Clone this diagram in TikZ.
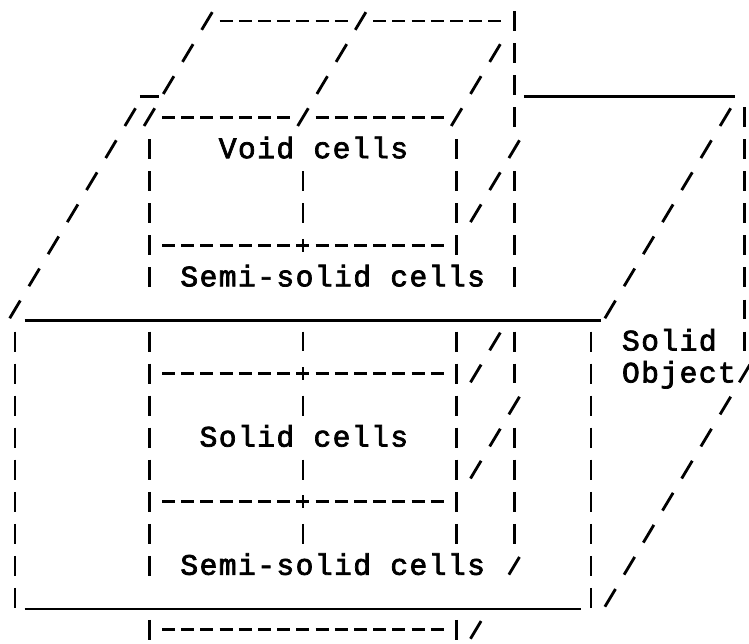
\documentclass[tikz,border=0pt]{standalone}
\usepackage{fontspec}
\newfontfamily\asciifont[FakeBold=2.4, LetterSpace=4.7]{Liberation Mono}
\begin{document}
\begin{tikzpicture}[x=0.5cm, y=-0.8346cm, line width=2.1pt,
	vbar/.style={dash pattern=on 14.8pt off 8.95pt},
	hdash/.style={dash pattern=on 9.6pt off 4.626pt},
	slant/.style={dash pattern=on 15.3pt off 12.38pt},
	uline/.style={line width=1.8pt},
	celltext/.style={anchor=base west, inner sep=0pt, font={\asciifont\fontsize{22}{26}\selectfont}}]
	\useasboundingbox (-0.781,-0.655) rectangle (38.23,19.41);
	
	% vertical bars: column / first row / last row
	\foreach \c/\a/\b in {7/4/8, 15/5/6, 23/4/7, 26/0/3, 26/5/8, 38/3/10,
		0/10/18, 7/10/17, 7/19/19, 15/10/10, 15/12/12, 15/14/14, 15/16/16,
		23/10/16, 23/19/19, 26/10/11, 26/13/16, 30/10/18}
		\draw[vbar] (\c,\a-0.31) -- (\c,\b+0.31);
	
	% dashed rows: row / first column / last column
	\foreach \r/\a/\b in {0/11/17, 0/19/25, 3/8/14, 3/16/22, 7/8/22, 11/8/22, 15/8/22, 19/8/22}
		\draw[hdash] (\a-0.34,\r) -- (\b+0.34,\r);
	\foreach \r in {7,11,15}
		\draw[line width=1.6pt] (15,\r-0.2) -- (15,\r+0.2);
	
	% slanted edges: column / row / steps up-right
	\foreach \c/\r/\n in {0/9/6, 7/3/3, 15/3/3, 23/3/2, 24/6/2, 31/9/6,
		24/11/1, 24/14/2, 24/19/0, 26/17/0, 31/18/7}
		\draw[slant] (\c-0.276,\r+0.276) -- (\c+\n+0.276,\r-\n-0.276);
	
	% solid edges
	\foreach \r/\a/\b in {2/7/7, 2/27/37, 9/1/30, 18/1/29}
		\draw[uline] (\a-0.5,\r+0.35) -- (\b+0.5,\r+0.35);
	
	\node[celltext] (void) at (10.54,4.28) {Void cells};
	\node[celltext] (semitop) at (8.54,8.28) {Semi-solid cells};
	\node[celltext] (solid) at (9.54,13.28) {Solid cells};
	\node[celltext] (semibot) at (8.54,17.28) {Semi-solid cells};
	\node[celltext] (object) at (31.54,10.28) {Solid};
	\node[celltext] (objectb) at (31.54,11.28) {Object};
\end{tikzpicture}
\end{document}
